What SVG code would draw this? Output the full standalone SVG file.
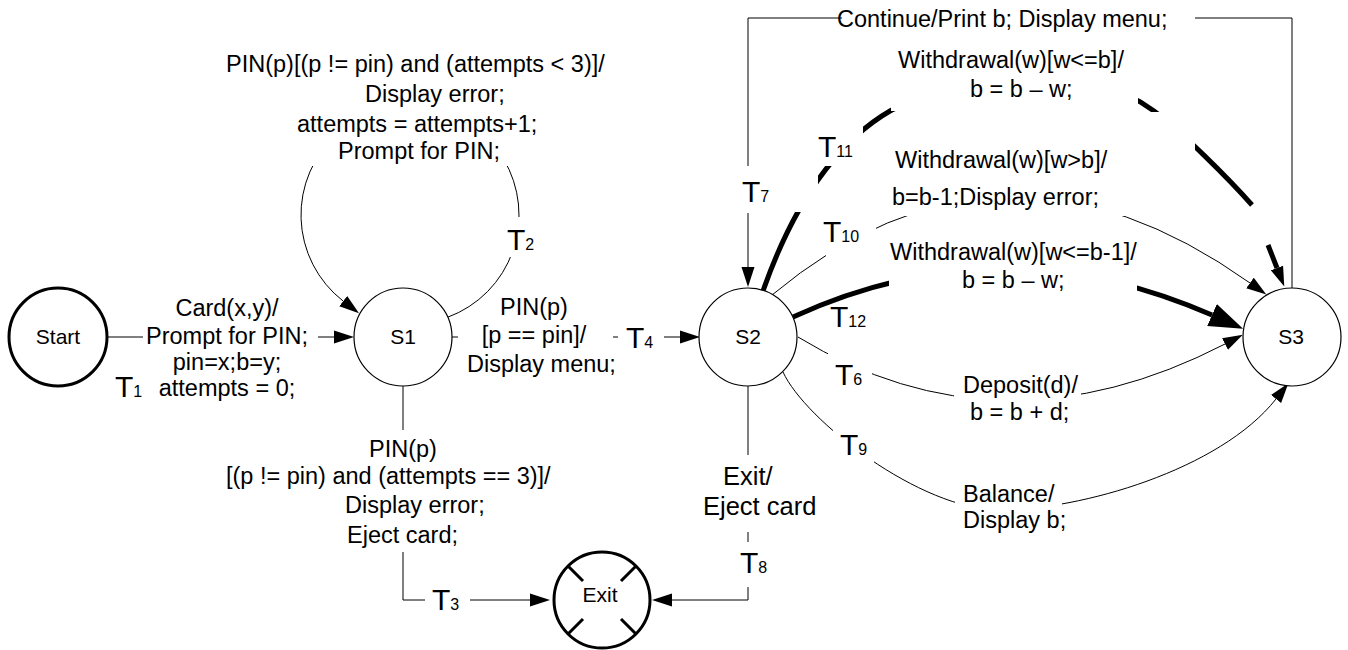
<svg xmlns="http://www.w3.org/2000/svg" width="1348" height="650" viewBox="0 0 1348 650">
<style>
text{font-family:"Liberation Sans",Arial,Helvetica,sans-serif;fill:#000}
.lb{font-size:23.5px}
.lm{font-size:23.5px;text-anchor:middle}
.lg{font-size:25.5px}
.nd{font-size:21px;text-anchor:middle}
.t{font-size:30px}
.s{font-size:16px}
.c{fill:none;stroke:#000;stroke-width:1}
.k{fill:none;stroke:#000;stroke-width:5}
.bg{fill:#fff;stroke:none}
.n{fill:#fff;stroke:#000;stroke-width:1.2}
.nb{fill:#fff;stroke:#000;stroke-width:3}
.x{fill:none;stroke:#000;stroke-width:3}
</style>
<defs>
<marker id="ah" markerUnits="userSpaceOnUse" viewBox="0 -7 20 14" refX="0" refY="0" markerWidth="20" markerHeight="14" orient="auto"><path d="M0,-6.5 L20,0 L0,6.5 z" fill="#000"/></marker>
<marker id="ahb" markerUnits="userSpaceOnUse" viewBox="0 -12 34 24" refX="0" refY="0" markerWidth="34" markerHeight="24" orient="auto"><path d="M0,-12 L34,0 L0,12 z" fill="#000"/></marker>
</defs>
<rect width="1348" height="650" fill="#fff"/>
<g id="connectors">
<path id="T1" class="c" d="M107,337 H143 M318,337 H334" marker-end="url(#ah)"/>
<path id="T2" class="c" d="M447.8,317.2 A109,109 0 1,0 343.2,301.1" marker-end="url(#ah)"/>
<path id="T3" class="c" d="M403,386 V430 M403,552 V600 H425 M470,600 H530" marker-end="url(#ah)"/>
<path id="T4" class="c" d="M452,337 H458 M613,337 H618 M664,337 H680" marker-end="url(#ah)"/>
<path id="T6" class="c" d="M798,337 Q1000,460 1225,344" marker-end="url(#ah)"/>
<path id="T7" class="c" d="M1292,288 V18 H1195 M842,18 H748 V167 M748,213 V267" marker-end="url(#ah)"/>
<path id="T8" class="c" d="M748,386 V455 M748,532 V542 M748,587 V600 H672" marker-end="url(#ah)"/>
<path id="T9" class="c" d="M783,372 C805,420 920,510 1000,510 C1080,510 1220,470 1276,399" marker-end="url(#ah)"/>
<path id="T10" class="c" d="M772,295 Q1000,105 1250,283" marker-end="url(#ah)"/>
<path id="T11" class="k" d="M763,291 C800,185 850,134 890,111 C968,67 1081,58 1154,111 C1182,132 1229,179 1252,205 M1268,245 L1277,268" marker-end="url(#ah)"/>
<path id="T12" class="k" d="M793,317 Q1000,222 1212,315" marker-end="url(#ahb)"/>
</g>
<g id="connector-labels">
<rect class="bg" x="143" y="295" width="175" height="108"/>
<text class="lm" x="227" y="316">Card(x,y)/</text>
<text class="lm" x="227" y="344">Prompt for PIN;</text>
<text class="lm" x="227" y="370">pin=x;b=y;</text>
<text class="lm" x="227" y="396">attempts = 0;</text>
<text class="t" x="115" y="397">T<tspan class="s">1</tspan></text>

<rect class="bg" x="222" y="46" width="392" height="120"/>
<text class="lb" x="226" y="72">PIN(p)[(p != pin) and (attempts &lt; 3)]/</text>
<text class="lb" x="365" y="102">Display error;</text>
<text class="lb" x="297" y="132">attempts = attempts+1;</text>
<text class="lb" x="338" y="159">Prompt for PIN;</text>
<rect class="bg" x="503" y="217" width="37" height="40"/>
<text class="t" x="507" y="250">T<tspan class="s">2</tspan></text>

<text class="lb" x="369" y="457">PIN(p)</text>
<text class="lb" x="226" y="484">[(p != pin) and (attempts == 3)]/</text>
<text class="lb" x="345" y="513">Display error;</text>
<text class="lb" x="347" y="543">Eject card;</text>
<text class="t" x="432" y="610">T<tspan class="s">3</tspan></text>

<text class="lm" x="534" y="315">PIN(p)</text>
<text class="lm" x="534" y="343">[p == pin]/</text>
<text class="lb" x="467" y="372">Display menu;</text>
<text class="t" x="626" y="348">T<tspan class="s">4</tspan></text>

<text class="lb" x="837" y="27">Continue/Print b; Display menu;</text>
<rect class="bg" x="736" y="166" width="82" height="46"/>
<text class="t" x="742" y="202">T<tspan class="s">7</tspan></text>

<text class="lg" x="723" y="485">Exit/</text>
<text class="lg" x="703" y="515">Eject card</text>
<text class="t" x="740" y="573">T<tspan class="s">8</tspan></text>

<rect class="bg" x="815" y="122" width="48" height="44"/>
<text class="t" x="818" y="157">T<tspan class="s">11</tspan></text>
<rect class="bg" x="891" y="40" width="247" height="71"/>
<text class="lb" x="898" y="68">Withdrawal(w)[w&lt;=b]/</text>
<text class="lb" x="970" y="97">b = b – w;</text>

<rect class="bg" x="893" y="112" width="302" height="104"/>
<text class="lb" x="895" y="168">Withdrawal(w)[w&gt;b]/</text>
<text class="lb" x="892" y="205">b=b-1;Display error;</text>
<rect class="bg" x="826" y="214" width="50" height="43"/>
<text class="t" x="823" y="242">T<tspan class="s">10</tspan></text>

<rect class="bg" x="889" y="236" width="248" height="62"/>
<text class="lb" x="890" y="260">Withdrawal(w)[w&lt;=b-1]/</text>
<text class="lb" x="962" y="288">b = b – w;</text>
<text class="t" x="830" y="327">T<tspan class="s">12</tspan></text>

<rect class="bg" x="828" y="350" width="44" height="42"/>
<text class="t" x="835" y="385">T<tspan class="s">6</tspan></text>
<rect class="bg" x="954" y="368" width="127" height="58"/>
<text class="lb" x="963" y="393">Deposit(d)/</text>
<text class="lb" x="970" y="420">b = b + d;</text>

<rect class="bg" x="833" y="424" width="41" height="44"/>
<text class="t" x="840" y="455">T<tspan class="s">9</tspan></text>
<rect class="bg" x="955" y="478" width="107" height="56"/>
<text class="lb" x="963" y="502">Balance/</text>
<text class="lb" x="963" y="528">Display b;</text>
</g>
<g id="Start"><circle class="nb" cx="58" cy="337" r="49"/><text class="nd" x="58" y="344">Start</text></g>
<g id="S1"><circle class="n" cx="403" cy="337" r="49"/><text class="nd" x="403" y="344">S1</text></g>
<g id="S2"><circle class="n" cx="748" cy="337" r="49"/><text class="nd" x="748" y="344">S2</text></g>
<g id="S3"><circle class="n" cx="1292" cy="337" r="49"/><text class="nd" x="1291" y="344">S3</text></g>
<g id="Exit"><circle class="nb" cx="602" cy="600" r="48"/>
<path class="x" d="M583,581 L568,566 M621,581 L636,566 M583,619 L568,634 M621,619 L636,634"/>
<text class="nd" x="600" y="602">Exit</text></g>
</svg>
